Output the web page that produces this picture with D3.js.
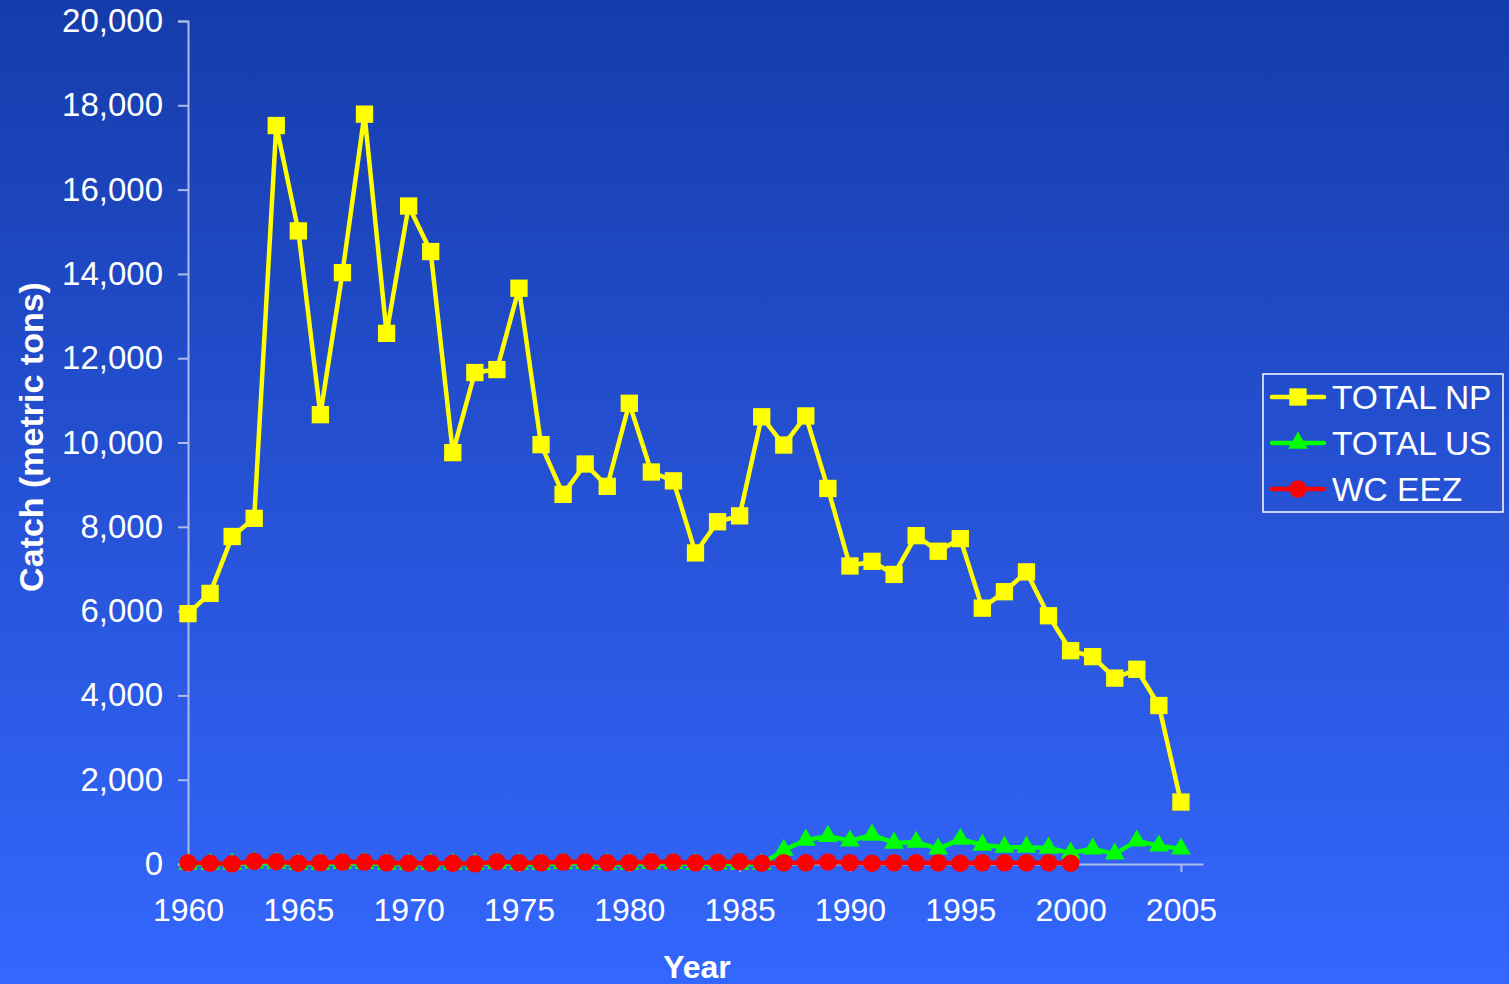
<!DOCTYPE html>
<html>
<head>
<meta charset="utf-8">
<script src="https://cdn.jsdelivr.net/npm/d3@7"></script>
<style>
html,body{margin:0;padding:0;overflow:hidden;background:#2550d8;}
svg{display:block;}
text{font-family:"Liberation Sans",Arial,sans-serif;fill:#ffffff;}
</style>
</head>
<body>
<svg id="chart" width="1509" height="984"></svg>
<script>
const years = d3.range(1960, 2006);
const totalNP = [5940,6420,7770,8200,17520,15020,10660,14030,17790,12590,15610,14530,9760,11660,11730,13660,9950,8770,9490,8960,10930,9300,9090,7380,8120,8260,10610,9940,10630,8910,7070,7180,6870,7790,7420,7720,6070,6460,6930,5890,5060,4920,4410,4620,3760,1470];
const totalUS = [0,0,0,30,25,0,0,15,15,0,0,0,0,0,25,0,0,15,15,0,0,25,15,0,10,0,0,330,570,660,550,690,500,520,360,590,450,400,400,380,260,360,240,550,430,360];
const wcEEZ = [30,20,5,65,55,20,30,45,45,30,20,20,20,5,55,30,30,45,45,30,30,55,45,30,40,55,20,30,30,50,30,20,30,30,30,20,30,30,30,30,20];
const eezYears = d3.range(1960, 2001);
const yTicks = d3.range(0, 20001, 2000);
const xTicks = d3.range(1960, 2006, 5);
const seriesNames = ["TOTAL NP", "TOTAL US", "WC EEZ"];
const seriesColors = ["#ffff00", "#00ff00", "#ff0000"];

const svg = d3.select("#chart");
const W = 1509, H = 984;

const defs = svg.append("defs");
const grad = defs.append("linearGradient").attr("id","bg").attr("x1",0).attr("y1",0).attr("x2",0).attr("y2",1);
grad.append("stop").attr("offset","0%").attr("stop-color","#163cab");
grad.append("stop").attr("offset","100%").attr("stop-color","#3467fe");
svg.append("rect").attr("width",W).attr("height",H).attr("fill","url(#bg)");

const x = d3.scaleLinear().domain([1960, 2006]).range([188, 1203]);
const y = d3.scaleLinear().domain([0, 20000]).range([864, 21]);

const axisColor = "#aebbe9";

// Y axis
const yAxis = svg.append("g").attr("transform","translate(188,0)")
  .call(d3.axisLeft(y).tickValues(yTicks).tickFormat(d3.format(",")).tickSize(10).tickPadding(15));
yAxis.select(".domain").attr("stroke",axisColor).attr("stroke-width",2);
yAxis.selectAll(".tick line").attr("stroke",axisColor).attr("stroke-width",2);
yAxis.selectAll(".tick text").attr("font-size","33px").attr("fill","#fff")
  .attr("font-family","'Liberation Sans',Arial,sans-serif");

// X axis
const xAxis = svg.append("g").attr("transform","translate(0,864)")
  .call(d3.axisBottom(x).tickValues(xTicks).tickFormat(d3.format("d")).tickSize(8).tickSizeOuter(0).tickPadding(26));
xAxis.select(".domain").attr("stroke",axisColor).attr("stroke-width",2);
xAxis.selectAll(".tick line").attr("stroke",axisColor).attr("stroke-width",2);
xAxis.selectAll(".tick text").attr("font-size","32px").attr("fill","#fff")
  .attr("font-family","'Liberation Sans',Arial,sans-serif");

// Axis titles
svg.append("text").attr("x",697).attr("y",978).attr("text-anchor","middle")
  .attr("font-size","32px").attr("font-weight","bold").text("Year");
svg.append("text").attr("transform","translate(43,437) rotate(-90)").attr("text-anchor","middle")
  .attr("font-size","34px").attr("font-weight","bold").text("Catch (metric tons)");

const line = d3.line().x(d => x(d[0])).y(d => y(d[1]));

const npData = years.map((yr,i) => [yr, totalNP[i]]);
const usData = years.map((yr,i) => [yr, totalUS[i]]);
const eezData = eezYears.map((yr,i) => [yr, wcEEZ[i]]);

const symSquare = d3.symbol().type(d3.symbolSquare).size(300);
const symTri = d3.symbol().type(d3.symbolTriangle).size(170);
const symCircle = d3.symbol().type(d3.symbolCircle).size(240);

function drawSeries(data, color, sym) {
  const g = svg.append("g");
  g.append("path").datum(data).attr("d", line).attr("fill","none")
    .attr("stroke", color).attr("stroke-width", 4.5).attr("stroke-linejoin","round");
  g.selectAll("path.m").data(data).join("path").attr("class","m")
    .attr("transform", d => `translate(${x(d[0])},${y(d[1])})`)
    .attr("d", sym()).attr("fill", color);
}
drawSeries(npData, seriesColors[0], symSquare);
drawSeries(usData, seriesColors[1], symTri);
drawSeries(eezData, seriesColors[2], symCircle);

// Legend
const leg = svg.append("g");
leg.append("rect").attr("x",1263).attr("y",374).attr("width",240).attr("height",138)
  .attr("fill","none").attr("stroke","#ffffff").attr("stroke-width",1.5);
const syms = [symSquare, symTri, symCircle];
const legY = [397, 443, 489];
seriesNames.forEach((name, i) => {
  leg.append("line").attr("x1",1272).attr("x2",1324).attr("y1",legY[i]).attr("y2",legY[i])
    .attr("stroke",seriesColors[i]).attr("stroke-width",4.5).attr("stroke-linecap","round");
  leg.append("path").attr("transform",`translate(1298,${legY[i]})`).attr("d",syms[i]()).attr("fill",seriesColors[i]);
  leg.append("text").attr("x",1332).attr("y",legY[i]).attr("dy","0.36em")
    .attr("font-size","33.5px").text(name);
});
</script>
</body>
</html>
